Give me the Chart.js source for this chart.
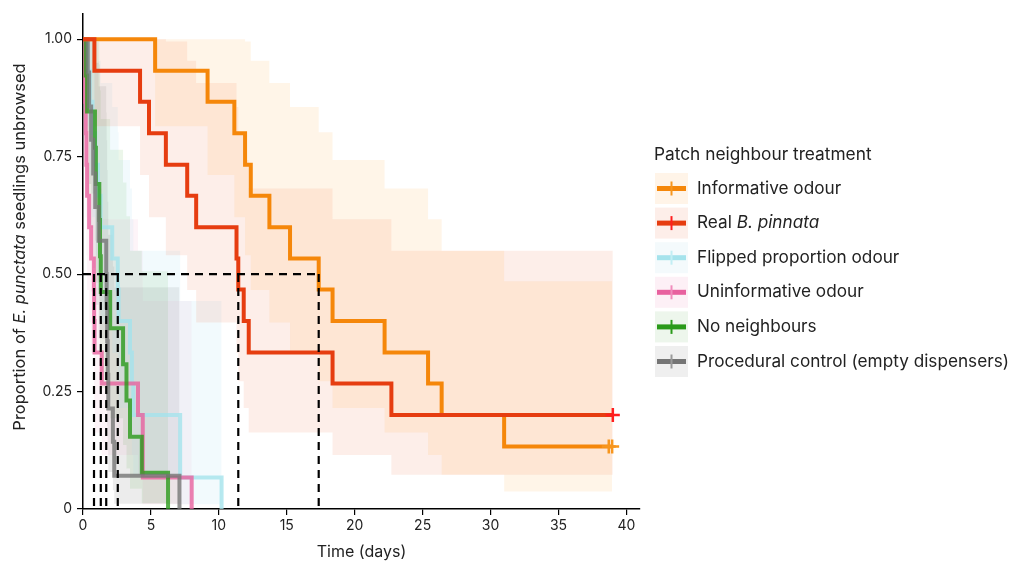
<!DOCTYPE html>
<html>
<head>
<meta charset="utf-8">
<script src="https://cdn.jsdelivr.net/npm/chart.js@4.4.1/dist/chart.umd.min.js"></script>
<style>
  html, body { margin: 0; padding: 0; background: #fff; }
</style>
</head>
<body>
<canvas id="kmChart" width="1009" height="562"></canvas>
<script>
// Kaplan-Meier curves, values (time in days, proportion unbrowsed)
var infT  = [0, 5.31, 9.17, 11.14, 11.93, 12.35, 13.72, 15.24, 17.35, 18.37, 22.2, 25.4, 26.4, 31.0, 38.7, 38.95];
var infS  = [1, 0.933, 0.867, 0.8, 0.733, 0.667, 0.6, 0.533, 0.467, 0.4, 0.333, 0.267, 0.2, 0.133, 0.133, 0.133];
var infLo = [1, 0.815, 0.711, 0.621, 0.540, 0.466, 0.397, 0.332, 0.272, 0.215, 0.163, 0.115, 0.073, 0.037, 0.037, 0.037];
var infHi = [1, 1, 1, 1, 0.995, 0.954, 0.907, 0.856, 0.802, 0.743, 0.682, 0.617, 0.550, 0.485, 0.485, 0.485];

var realT  = [0, 0.84, 4.2, 4.86, 6.1, 7.67, 8.33, 11.3, 11.43, 11.83, 12.2, 18.37, 22.7, 39.0];
var realS  = [1, 0.933, 0.867, 0.8, 0.733, 0.667, 0.6, 0.533, 0.467, 0.4, 0.333, 0.267, 0.2, 0.2];
var realLo = [1, 0.815, 0.711, 0.621, 0.540, 0.466, 0.397, 0.332, 0.272, 0.215, 0.163, 0.115, 0.073, 0.073];
var realHi = [1, 1, 1, 1, 0.995, 0.954, 0.907, 0.856, 0.802, 0.743, 0.682, 0.617, 0.550, 0.550];

var flipT  = [0, 0.3, 0.5, 0.7, 0.9, 1.1, 1.3, 2.15, 2.56, 2.62, 3.46, 3.6, 3.7, 7.15, 10.2];
var flipS  = [1, 0.933, 0.867, 0.8, 0.733, 0.667, 0.6, 0.533, 0.467, 0.4, 0.333, 0.267, 0.2, 0.067, 0];
var flipLo = [1, 0.815, 0.711, 0.621, 0.540, 0.466, 0.397, 0.332, 0.272, 0.215, 0.163, 0.115, 0.073, 0.010, 0.010];
var flipHi = [1, 1, 1, 1, 0.995, 0.954, 0.907, 0.856, 0.802, 0.743, 0.682, 0.617, 0.550, 0.443, 0.443];

var uninfT  = [0, 0.1, 0.15, 0.2, 0.25, 0.3, 0.45, 0.6, 0.8, 0.82, 0.85, 1.38, 4.05, 4.4, 8.0];
var uninfS  = [1, 0.933, 0.867, 0.8, 0.733, 0.667, 0.6, 0.533, 0.467, 0.4, 0.333, 0.267, 0.2, 0.067, 0];
var uninfLo = [1, 0.815, 0.711, 0.621, 0.540, 0.466, 0.397, 0.332, 0.272, 0.215, 0.163, 0.115, 0.073, 0.010, 0.010];
var uninfHi = [1, 1, 1, 1, 0.995, 0.954, 0.907, 0.856, 0.802, 0.743, 0.682, 0.617, 0.550, 0.443, 0.443];

var noneT  = [0, 0.2, 0.3, 0.88, 0.95, 1.2, 1.25, 1.31, 2.0, 2.95, 3.2, 3.46, 4.33, 6.26];
var noneS  = [1, 0.923, 0.846, 0.769, 0.692, 0.615, 0.538, 0.462, 0.385, 0.308, 0.231, 0.154, 0.077, 0];
var noneLo = [1, 0.789, 0.671, 0.571, 0.482, 0.400, 0.326, 0.257, 0.193, 0.136, 0.086, 0.043, 0.012, 0.012];
var noneHi = [1, 1, 1, 1, 0.995, 0.946, 0.891, 0.830, 0.765, 0.695, 0.623, 0.550, 0.506, 0.506];

var procT  = [0, 0.35, 0.45, 0.6, 0.75, 0.9, 1.15, 1.71, 1.74, 1.78, 1.82, 1.86, 2.2, 2.3, 7.1];
var procS  = [1, 0.929, 0.857, 0.786, 0.714, 0.643, 0.571, 0.5, 0.429, 0.357, 0.286, 0.214, 0.143, 0.071, 0];
var procLo = [1, 0.803, 0.692, 0.598, 0.513, 0.435, 0.363, 0.296, 0.234, 0.177, 0.125, 0.079, 0.040, 0.011, 0.011];
var procHi = [1, 1, 1, 1, 0.995, 0.950, 0.900, 0.844, 0.785, 0.721, 0.654, 0.584, 0.516, 0.472, 0.472];

// median survival times (dashed guides)
var medianT = [0.81, 1.31, 1.71, 2.56, 11.43, 17.35];

var xTickValues = [0, 5, 10, 15, 20, 25, 30, 35, 40];
var yTickValues = [0, 0.25, 0.5, 0.75, 1];
var yTickLabels = ['0', '0.25', '0.50', '0.75', '1.00'];

var legendTitle = 'Patch neighbour treatment';

var groups = [
  {label: [['Informative odour', '']], t: infT, s: infS, lo: infLo, hi: infHi,
   line: '#f5870a', cross: '#f7961e', band: 'rgba(255,140,0,0.09)', box: '#fff4e8', order: 2, censor: true},
  {label: [['Real ', ''], ['B. pinnata', 'italic ']], t: realT, s: realS, lo: realLo, hi: realHi,
   line: '#e63d10', cross: '#ff1e1e', band: 'rgba(232,62,16,0.09)', box: '#fdeee9', order: 1, censor: true},
  {label: [['Flipped proportion odour', '']], t: flipT, s: flipS, lo: flipLo, hi: flipHi,
   line: '#a5e3ec', cross: '#c2eef4', band: 'rgba(150,215,235,0.12)', box: '#f4fafc', order: 6},
  {label: [['Uninformative odour', '']], t: uninfT, s: uninfS, lo: uninfLo, hi: uninfHi,
   line: '#e8619f', cross: '#f08cbc', band: 'rgba(232,97,159,0.07)', box: '#fdf0f6', order: 5},
  {label: [['No neighbours', '']], t: noneT, s: noneS, lo: noneLo, hi: noneHi,
   line: '#2a9a1a', cross: '#2a9a1a', band: 'rgba(42,154,26,0.09)', box: '#edf6ec', order: 4},
  {label: [['Procedural control (empty dispensers)', '']], t: procT, s: procS, lo: procLo, hi: procHi,
   line: '#757575', cross: '#9a9a9a', band: 'rgba(110,110,110,0.13)', box: '#efefef', order: 3}
];

function pts(t, v) {
  return t.map(function(x, i) { return {x: x, y: v[i]}; });
}

function withAlpha(hex, a) {
  var r = parseInt(hex.substr(1, 2), 16), g = parseInt(hex.substr(3, 2), 16), b = parseInt(hex.substr(5, 2), 16);
  return 'rgba(' + r + ',' + g + ',' + b + ',' + a + ')';
}

var datasets = [];

// confidence bands: upper edge then lower edge filled to it
groups.forEach(function(g) {
  datasets.push({
    data: pts(g.t, g.hi), stepped: true, borderWidth: 0, borderColor: 'rgba(0,0,0,0)',
    pointRadius: 0, fill: false, order: 20
  });
  datasets.push({
    data: pts(g.t, g.lo), stepped: true, borderWidth: 0, borderColor: 'rgba(0,0,0,0)',
    pointRadius: 0, fill: '-1', backgroundColor: g.band, order: 20
  });
});

// survival curves
groups.forEach(function(g) {
  var n = g.t.length;
  var radius = g.t.map(function(x, i) {
    if (!g.censor) return 0;
    if (g.t === infT) return i >= n - 2 ? 7 : 0;
    return i === n - 1 ? 7 : 0;
  });
  datasets.push({
    data: pts(g.t, g.s), stepped: true, borderWidth: 4,
    borderColor: withAlpha(g.line, g.censor ? 1 : 0.8),
    pointStyle: 'cross', pointRadius: radius, pointBorderColor: g.cross, pointBorderWidth: 2.5,
    fill: false, order: g.order
  });
});

// median guides
var vData = [];
medianT.forEach(function(m) {
  vData.push({x: m, y: 0.5});
  vData.push({x: m, y: 0});
  vData.push({x: m, y: null});
});
datasets.push({
  data: [{x: 0, y: 0.5}, {x: medianT[medianT.length - 1], y: 0.5}],
  borderColor: '#000', borderWidth: 2.2, borderDash: [8, 6], pointRadius: 0, fill: false, order: 0
});
datasets.push({
  data: vData, borderColor: '#000', borderWidth: 2.2, borderDash: [8, 6], pointRadius: 0,
  fill: false, spanGaps: false, order: 0
});

var FONT = 'Inter, "Noto Sans", sans-serif';

function drawParts(ctx, parts, x, y, size, align) {
  var total = 0;
  parts.forEach(function(p) {
    ctx.font = p[1] + size + 'px ' + FONT;
    total += ctx.measureText(p[0]).width;
  });
  var cx = align === 'center' ? x - total / 2 : x;
  ctx.textAlign = 'left';
  parts.forEach(function(p) {
    ctx.font = p[1] + size + 'px ' + FONT;
    ctx.fillText(p[0], cx, y);
    cx += ctx.measureText(p[0]).width;
  });
}

var yTitlePlugin = {
  id: 'yTitle',
  afterDraw: function(chart) {
    var ctx = chart.ctx;
    ctx.save();
    ctx.translate(20, 247);
    ctx.rotate(-Math.PI / 2);
    ctx.fillStyle = '#222';
    ctx.textBaseline = 'middle';
    drawParts(ctx, [['Proportion of ', ''], ['E. punctata', 'italic '], [' seedlings unbrowsed', '']], 0, 0, 16.5, 'center');
    ctx.restore();
  }
};

var legendPlugin = {
  id: 'kmLegend',
  afterDraw: function(chart) {
    var ctx = chart.ctx;
    ctx.save();
    ctx.fillStyle = '#222';
    ctx.textBaseline = 'middle';
    drawParts(ctx, [[legendTitle, '']], 654, 155, 17.3, 'left');
    groups.forEach(function(g, i) {
      var cy = 188.5 + i * 34.6;
      ctx.fillStyle = g.box;
      ctx.fillRect(655, cy - 15.5, 33, 31);
      ctx.strokeStyle = g.line;
      ctx.lineWidth = 5;
      ctx.beginPath();
      ctx.moveTo(657, cy);
      ctx.lineTo(686, cy);
      ctx.stroke();
      ctx.strokeStyle = g.cross;
      ctx.lineWidth = 2;
      ctx.beginPath();
      ctx.moveTo(671.5, cy - 7);
      ctx.lineTo(671.5, cy + 7);
      ctx.stroke();
      ctx.fillStyle = '#222';
      drawParts(ctx, g.label, 697, cy, 17.2, 'left');
    });
    ctx.restore();
  }
};

var kmChart = new Chart(document.getElementById('kmChart'), {
  type: 'line',
  data: {datasets: datasets},
  plugins: [yTitlePlugin, legendPlugin],
  options: {
    responsive: false,
    animation: false,
    events: [],
    layout: {padding: {top: 10, right: 369, left: 0, bottom: 0}},
    plugins: {legend: {display: false}, tooltip: {enabled: false}},
    scales: {
      x: {
        type: 'linear', min: 0, max: 41,
        afterBuildTicks: function(scale) {
          scale.ticks = xTickValues.map(function(v) { return {value: v}; });
        },
        afterFit: function(scale) { scale.height = 53; },
        grid: {drawOnChartArea: false, drawTicks: true, tickLength: 6, color: '#000', lineWidth: 1.2},
        border: {color: '#000', width: 1.5},
        ticks: {color: '#222', font: {family: FONT, size: 14}, padding: 2, maxRotation: 0},
        title: {display: true, text: 'Time (days)', color: '#222', font: {family: FONT, size: 16},
                padding: {top: 0, bottom: 0}}
      },
      y: {
        type: 'linear', min: 0, max: 1.055,
        afterBuildTicks: function(scale) {
          scale.ticks = yTickValues.map(function(v) { return {value: v}; });
        },
        afterFit: function(scale) { scale.width = 83; },
        grid: {drawOnChartArea: false, drawTicks: true, tickLength: 6, color: '#000', lineWidth: 1.2},
        border: {color: '#000', width: 1.5},
        ticks: {
          color: '#222', font: {family: FONT, size: 14}, padding: 5,
          callback: function(v) {
            var i = yTickValues.indexOf(v);
            return i >= 0 ? yTickLabels[i] : '';
          }
        }
      }
    }
  }
});
</script>
</body>
</html>
